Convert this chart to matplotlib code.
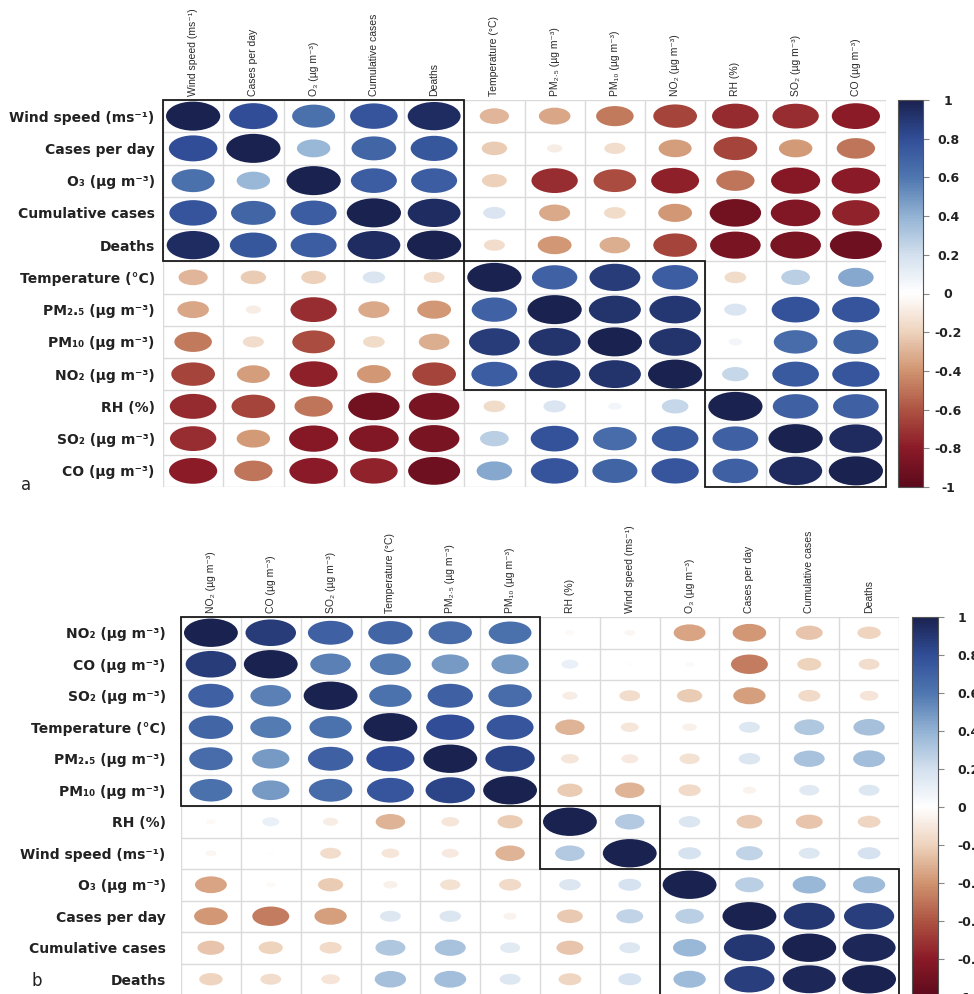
import numpy as np
import matplotlib
matplotlib.use("Agg")
import matplotlib.pyplot as plt
from matplotlib.colors import LinearSegmentedColormap, Normalize
from matplotlib.cm import ScalarMappable
from matplotlib.patches import Ellipse, Rectangle

# ---- panel a: variable order and correlation matrix ----
labels_a = [
    "Wind speed (ms⁻¹)", "Cases per day", "O₃ (µg m⁻³)", "Cumulative cases",
    "Deaths", "Temperature (°C)", "PM₂.₅ (µg m⁻³)", "PM₁₀ (µg m⁻³)",
    "NO₂ (µg m⁻³)", "RH (%)", "SO₂ (µg m⁻³)", "CO (µg m⁻³)",
]
corr_a = [
    [1.00, 0.80, 0.63, 0.77, 0.95, -0.29, -0.34, -0.48, -0.65, -0.74, -0.73, -0.79],
    [0.80, 1.00, 0.38, 0.68, 0.75, -0.22, -0.08, -0.15, -0.37, -0.65, -0.38, -0.50],
    [0.63, 0.38, 1.00, 0.72, 0.72, -0.21, -0.73, -0.62, -0.78, -0.50, -0.82, -0.80],
    [0.77, 0.68, 0.72, 1.00, 0.95, 0.17, -0.33, -0.16, -0.39, -0.90, -0.84, -0.77],
    [0.95, 0.75, 0.72, 0.95, 1.00, -0.15, -0.39, -0.32, -0.65, -0.87, -0.87, -0.92],
    [-0.29, -0.22, -0.21, 0.17, -0.15, 1.00, 0.70, 0.88, 0.72, -0.16, 0.28, 0.43],
    [-0.34, -0.08, -0.73, -0.33, -0.39, 0.70, 1.00, 0.92, 0.90, 0.17, 0.78, 0.77],
    [-0.48, -0.15, -0.62, -0.16, -0.32, 0.88, 0.92, 1.00, 0.92, 0.06, 0.65, 0.69],
    [-0.65, -0.37, -0.78, -0.39, -0.65, 0.72, 0.90, 0.92, 1.00, 0.24, 0.74, 0.76],
    [-0.74, -0.65, -0.50, -0.90, -0.87, -0.16, 0.17, 0.06, 0.24, 1.00, 0.71, 0.71],
    [-0.73, -0.38, -0.82, -0.84, -0.87, 0.28, 0.78, 0.65, 0.74, 0.71, 1.00, 0.96],
    [-0.79, -0.50, -0.80, -0.77, -0.92, 0.43, 0.77, 0.69, 0.76, 0.71, 0.96, 1.00],
]
# hierarchical clusters: (first index, size)
clusters_a = [(0, 5), (5, 4), (9, 3)]

# ---- panel b ----
labels_b = [
    "NO₂ (µg m⁻³)", "CO (µg m⁻³)", "SO₂ (µg m⁻³)", "Temperature (°C)",
    "PM₂.₅ (µg m⁻³)", "PM₁₀ (µg m⁻³)", "RH (%)", "Wind speed (ms⁻¹)",
    "O₃ (µg m⁻³)", "Cases per day", "Cumulative cases", "Deaths",
]
corr_b = [
    [1.00, 0.88, 0.71, 0.68, 0.65, 0.63, -0.03, -0.04, -0.35, -0.39, -0.25, -0.19],
    [0.88, 1.00, 0.57, 0.58, 0.48, 0.48, 0.10, 0.01, -0.03, -0.47, -0.20, -0.15],
    [0.71, 0.57, 1.00, 0.62, 0.71, 0.65, -0.08, -0.15, -0.22, -0.36, -0.17, -0.12],
    [0.68, 0.58, 0.62, 1.00, 0.80, 0.76, -0.30, -0.11, -0.07, 0.15, 0.31, 0.34],
    [0.65, 0.48, 0.71, 0.80, 1.00, 0.84, -0.11, -0.10, -0.14, 0.16, 0.33, 0.35],
    [0.63, 0.48, 0.65, 0.76, 0.84, 1.00, -0.22, -0.30, -0.17, -0.06, 0.14, 0.15],
    [-0.03, 0.10, -0.08, -0.30, -0.11, -0.22, 1.00, 0.30, 0.16, -0.23, -0.25, -0.18],
    [-0.04, 0.01, -0.15, -0.11, -0.10, -0.30, 0.30, 1.00, 0.18, 0.25, 0.15, 0.18],
    [-0.35, -0.03, -0.22, -0.07, -0.14, -0.17, 0.16, 0.18, 1.00, 0.28, 0.38, 0.36],
    [-0.39, -0.47, -0.36, 0.15, 0.16, -0.06, -0.23, 0.25, 0.28, 1.00, 0.90, 0.87],
    [-0.25, -0.20, -0.17, 0.31, 0.33, 0.14, -0.25, 0.15, 0.38, 0.90, 1.00, 0.97],
    [-0.19, -0.15, -0.12, 0.34, 0.35, 0.15, -0.18, 0.18, 0.36, 0.87, 0.97, 1.00],
]
clusters_b = [(0, 6), (6, 2), (8, 4)]

cbar_ticks = np.round(np.linspace(-1, 1, 11), 1)

# red-white-blue scale, dark red at -1 to navy at +1
cmap = LinearSegmentedColormap.from_list("corr", [
    "#5c0a1c", "#8b1a27", "#ae5443", "#d09470", "#eed3bd", "#ffffff",
    "#d3e0ee", "#93b3d4", "#4f77b0", "#314e98", "#1a2250",
])
norm = Normalize(-1, 1)

ROW_FONT = dict(family="DejaVu Sans", fontsize=10, fontweight="bold", color="#222222")
COL_FONT = dict(family=["Liberation Sans", "DejaVu Sans"], fontsize=7.5, color="#2a2a2a")

W, H = 974, 994


def px_axes(fig, x0, y0, x1, y1):
    """Add axes from pixel box (top-left origin)."""
    return fig.add_axes([x0 / W, 1 - y1 / H, (x1 - x0) / W, (y1 - y0) / H])


def corr_panel(ax, labels, corr, clusters, row_pad):
    corr = np.asarray(corr)
    n = len(labels)
    ax.set_xlim(0, n)
    ax.set_ylim(n, 0)

    for i in range(n):
        for j in range(n):
            r = corr[i, j]
            d = 0.9 * np.sqrt(abs(r))
            ax.add_patch(Ellipse((j + 0.5, i + 0.5), d, d, facecolor=cmap(norm(r)),
                                 edgecolor="none", zorder=2))

    for k in range(n + 1):
        ax.axhline(k, color="#dadada", lw=1.0, zorder=1)
        ax.axvline(k, color="#dadada", lw=1.0, zorder=1)

    for start, size in clusters:
        ax.add_patch(Rectangle((start, start), size, size, fill=False,
                               edgecolor="#1a1a1a", lw=1.3, zorder=3, clip_on=False))

    for s in ax.spines.values():
        s.set_visible(False)

    ax.set_yticks(np.arange(n) + 0.5)
    ax.set_yticklabels(labels, **ROW_FONT)
    ax.tick_params(axis="y", length=0, pad=row_pad)

    ax.xaxis.tick_top()
    ax.set_xticks(np.arange(n) + 0.5)
    ax.set_xticklabels(labels, rotation=90, **COL_FONT)
    ax.tick_params(axis="x", length=0, pad=3)


def corr_colorbar(fig, cax, ha, pad):
    cb = fig.colorbar(ScalarMappable(norm=norm, cmap=cmap), cax=cax, ticks=cbar_ticks)
    cb.ax.set_yticklabels([f"{t + 0.0:g}" for t in cbar_ticks],
                          fontsize=9, fontweight="bold", color="#222222")
    for t in cb.ax.get_yticklabels():
        t.set_horizontalalignment(ha)
    cb.ax.tick_params(length=4, width=0.8, color="#888888", pad=pad)
    cb.outline.set_edgecolor("#555555")
    cb.outline.set_linewidth(0.8)
    return cb


fig = plt.figure(figsize=(W / 100, H / 100), dpi=100)

ax_a = px_axes(fig, 163, 100, 886, 487)
corr_panel(ax_a, labels_a, corr_a, clusters_a, row_pad=6)
cax_a = px_axes(fig, 898, 100, 923, 487)
corr_colorbar(fig, cax_a, "center", 14)

ax_b = px_axes(fig, 181, 617, 899, 995)
corr_panel(ax_b, labels_b, corr_b, clusters_b, row_pad=11)
cax_b = px_axes(fig, 912, 617, 938, 997)
corr_colorbar(fig, cax_b, "left", 10)

fig.text(26 / W, 1 - 485 / H, "a", ha="center", va="center", fontsize=12, color="#222222")
fig.text(37 / W, 1 - 981 / H, "b", ha="center", va="center", fontsize=12, color="#222222")

fig.savefig("out.png", dpi=100)
